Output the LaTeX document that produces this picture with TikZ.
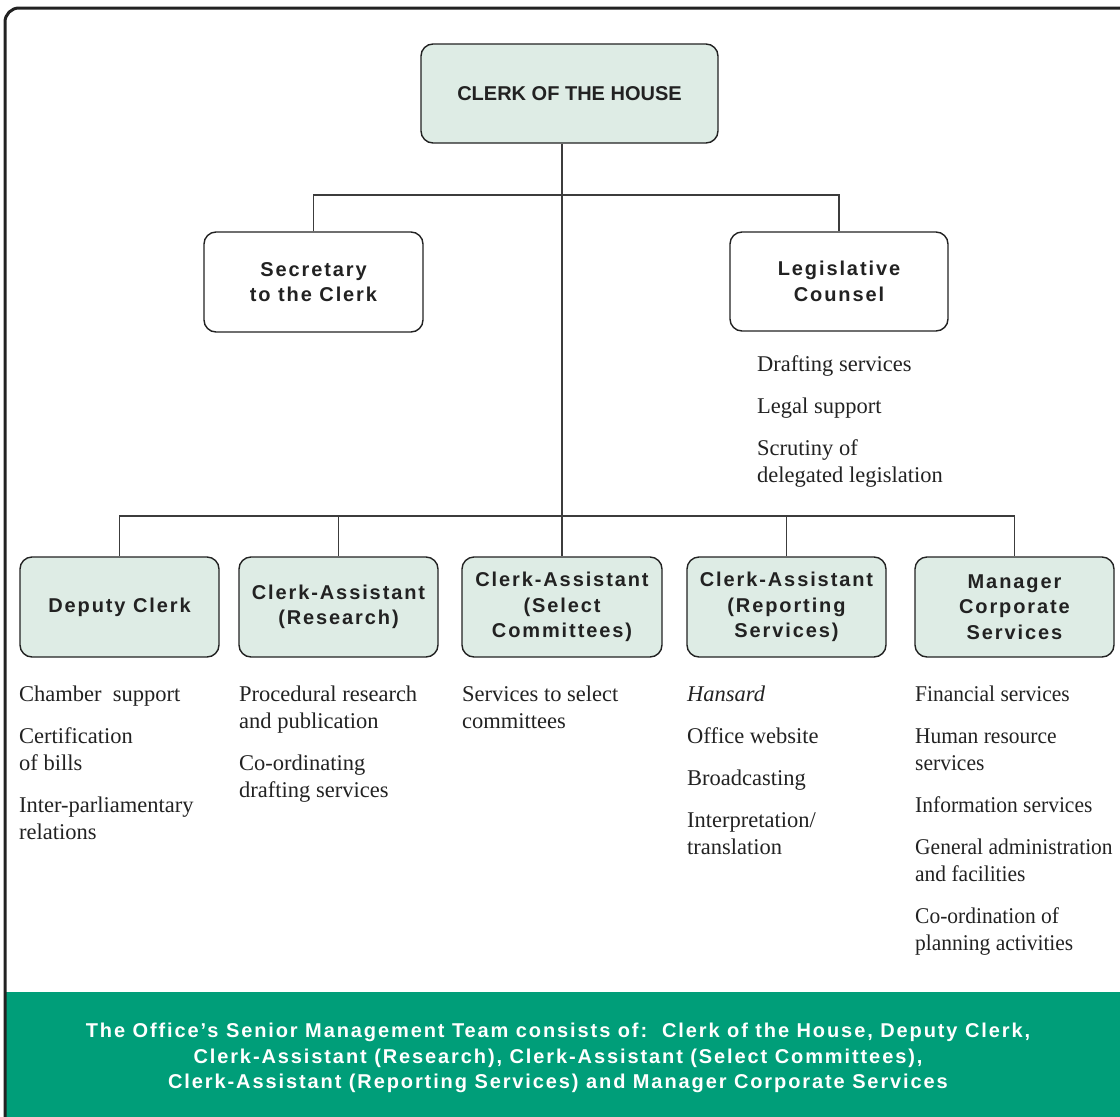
\documentclass[tikz,border=0pt]{standalone}
\usepackage{fontspec}
\setmainfont{Liberation Serif}
\newfontfamily\boxfont[LetterSpace=9.5]{Liberation Sans}
\newfontfamily\headfont{Liberation Sans}
\newfontfamily\narrowserif[FakeStretch=0.955]{Liberation Serif}
\definecolor{boxfill}{RGB}{222,236,229}
\definecolor{band}{RGB}{0,158,121}
\definecolor{ink}{RGB}{34,34,34}
\definecolor{linec}{RGB}{60,60,60}
\tikzset{
  box/.style={draw=ink, line width=1.4pt, rounded corners=12pt, align=center,
    text=ink, font=\boxfont\bfseries\fontsize{20}{25.5}\selectfont,
    minimum width=199pt, minimum height=100pt, inner sep=2pt},
  greenbox/.style={box, fill=boxfill},
  whitebox/.style={box, fill=white, minimum width=219pt},
  topbox/.style={draw=ink, line width=1.4pt, rounded corners=12pt, fill=boxfill,
    text=ink, font=\headfont\bfseries\fontsize{20}{24}\selectfont,
    minimum width=297pt, minimum height=99pt},
  items/.style={anchor=north west, inner sep=0pt, align=left, text=ink,
    font=\fontsize{22.5}{27}\selectfont},
  conn/.style={draw=linec, line width=1.2pt},
  frame/.style={draw=ink, line width=3pt, rounded corners=14pt}
}
\begin{document}
\begin{tikzpicture}[x=1pt,y=-1pt]
\useasboundingbox (0,0) rectangle (1120,1117);
\clip (0,0) rectangle (1120,1117);
\fill[band] (5,992) rectangle (1140,1140);
\draw[frame] (5,1140) -- (5,8) -- (1140,8);

\node[topbox] (clerk) at (569.5,93.5) {CLERK OF THE HOUSE};
\node[whitebox] (sec) at (313.5,282) {Secretary\\to the Clerk};
\node[whitebox, minimum width=218pt, minimum height=99pt] (leg) at (839,281.5) {Legislative\\Counsel};

\node[greenbox] (dep) at (119.5,607) {Deputy Clerk};
\node[greenbox] (res) at (338.5,607) {Clerk-Assistant\\(Research)};
\node[greenbox, minimum width=200pt] (sel) at (562,607) {Clerk-Assistant\\(Select\\Committees)};
\node[greenbox] (rep) at (786.5,607) {Clerk-Assistant\\(Reporting\\Services)};
\node[greenbox] (mgr) at (1014.5,607) {Manager\\Corporate\\Services};

\coordinate (j1) at (562,195);
\coordinate (j2) at (562,516);
\draw[conn] (clerk.south -| sel.north) -- (sel.north);
\draw[conn] (sec.north) |- (j1) -| (leg.north);
\draw[conn] (dep.north) |- (j2) -| (mgr.north);
\draw[conn] (res.north) -- (res.north |- j2);
\draw[conn] (rep.north) -- (rep.north |- j2);

\node[items] (tleg) at (757,355) {Drafting services\\[15pt]Legal support\\[15pt]Scrutiny of\\delegated legislation};
\node[items] (tdep) at (19,686) {Chamber\ \ support\\[15pt]Certification\\of bills\\[15pt]Inter-parliamentary\\relations};
\node[items] (tres) at (239,686) {Procedural research\\and publication\\[15pt]Co-ordinating\\drafting services};
\node[items] (tsel) at (462,686) {Services to select\\committees};
\node[items] (trep) at (687,686) {\textit{Hansard}\\[15pt]Office website\\[15pt]Broadcasting\\[15pt]Interpretation/\\translation};
\node[items, font=\narrowserif\fontsize{22.5}{27}\selectfont] (tmgr) at (915,686) {Financial services\\[15pt]Human resource\\services\\[15pt]Information services\\[15pt]General administration\\and facilities\\[15pt]Co-ordination of\\planning activities};

\node[align=center, text=white, font=\boxfont\bfseries\fontsize{20}{25.5}\selectfont] (note) at (558,1058)
  {The Office’s Senior Management Team consists of:\ \ Clerk of the House, Deputy Clerk,\\
   Clerk-Assistant (Research), Clerk-Assistant (Select Committees),\\
   Clerk-Assistant (Reporting Services) and Manager Corporate Services};
\end{tikzpicture}
\end{document}
